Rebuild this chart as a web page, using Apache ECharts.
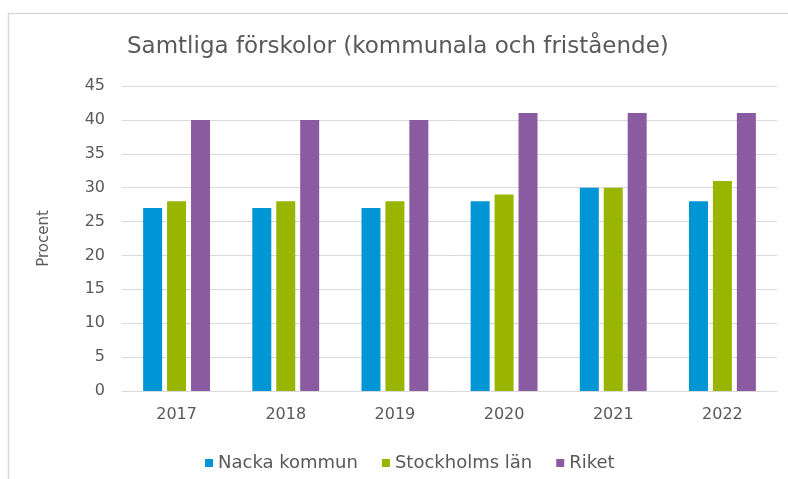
<!DOCTYPE html>
<html>
<head>
<meta charset="utf-8">
<script src="https://cdn.jsdelivr.net/npm/echarts@6/dist/echarts.min.js"></script>
<style>
html,body{margin:0;padding:0;background:#fff;}
#c{width:788px;height:479px;}
</style>
</head>
<body>
<div id="c"></div>
<script>
const categories = ['2017','2018','2019','2020','2021','2022'];
const nacka = [27, 27, 27, 28, 30, 28];
const stockholm = [28, 28, 28, 29, 30, 31];
const riket = [40, 40, 40, 41, 41, 41];
const seriesNames = ['Nacka kommun', 'Stockholms län', 'Riket'];
const yTicks = {min: 0, max: 45, interval: 5};

const chart = echarts.init(document.getElementById('c'), null, {renderer: 'canvas'});
const font = 'DejaVu Sans, sans-serif';
const txt = '#595959';
chart.setOption({
  animation: false,
  backgroundColor: '#fff',
  graphic: [{
    type: 'rect', left: 6, top: 11, silent: true,
    shape: {width: 800, height: 480},
    style: {fill: 'none', stroke: '#d9d9d9', lineWidth: 1.5}
  }],
  title: {
    text: 'Samtliga förskolor (kommunala och fristående)',
    left: 122, top: 31,
    textStyle: {fontFamily: font, fontSize: 23, fontWeight: 'normal', color: txt}
  },
  legend: {
    data: seriesNames,
    left: 200, top: 449,
    icon: 'rect', itemWidth: 8, itemHeight: 8, itemGap: 24,
    textStyle: {fontFamily: font, fontSize: 18, color: txt}
  },
  grid: {left: 122, right: 11, top: 86, bottom: 88, containLabel: false},
  xAxis: {
    type: 'category', data: categories,
    axisLine: {lineStyle: {color: '#d9d9d9', width: 1}},
    axisTick: {show: false},
    axisLabel: {fontFamily: font, fontSize: 16, color: txt, margin: 16}
  },
  yAxis: {
    type: 'value', min: yTicks.min, max: yTicks.max, interval: yTicks.interval,
    name: 'Procent', nameLocation: 'middle', nameGap: 70, nameRotate: 90,
    nameTextStyle: {fontFamily: font, fontSize: 15, color: txt},
    axisLine: {show: false}, axisTick: {show: false},
    axisLabel: {fontFamily: font, fontSize: 16, color: txt, margin: 17},
    splitLine: {lineStyle: {color: '#d9d9d9', width: 1}}
  },
  series: [
    {name: seriesNames[0], type: 'bar', data: nacka, barWidth: 19, barGap: '26%', itemStyle: {color: '#0096D6'}},
    {name: seriesNames[1], type: 'bar', data: stockholm, barWidth: 19, barGap: '26%', itemStyle: {color: '#99B500'}},
    {name: seriesNames[2], type: 'bar', data: riket, barWidth: 19, barGap: '26%', itemStyle: {color: '#8B5BA1'}}
  ]
});
</script>
</body>
</html>
